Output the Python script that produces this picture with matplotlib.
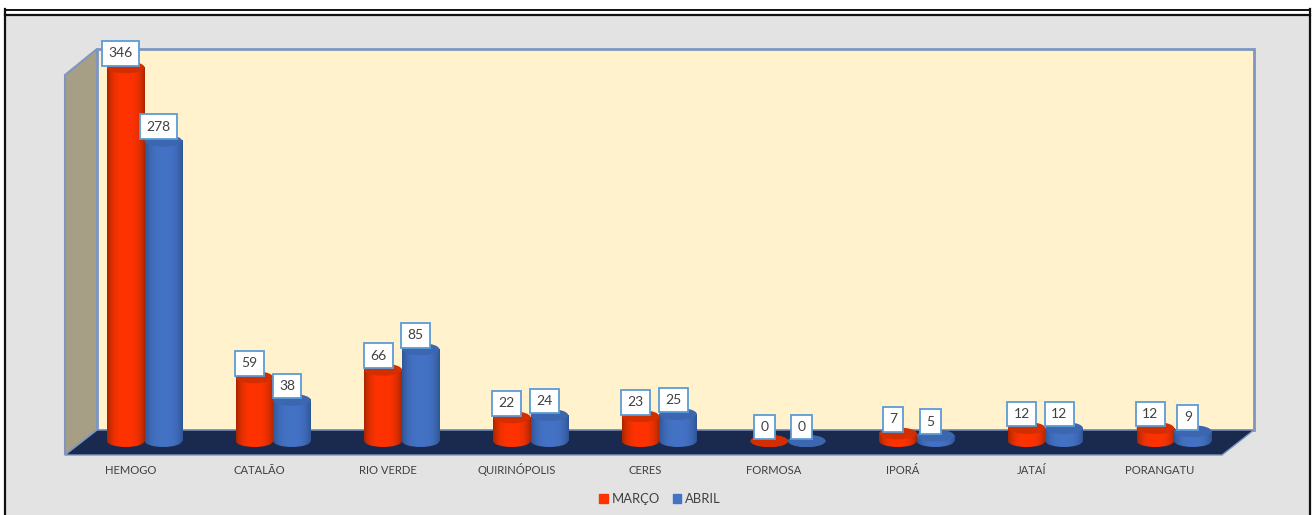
import matplotlib
matplotlib.use("Agg")
import matplotlib.pyplot as plt
import numpy as np
from matplotlib.patches import Ellipse, Patch, Polygon, Rectangle
from matplotlib.transforms import offset_copy

plt.rcParams['font.family'] = ['Lato', 'DejaVu Sans']

#data
categories = ["HEMOGO", "CATALÃO", "RIO VERDE", "QUIRINÓPOLIS", "CERES", "FORMOSA", "IPORÁ", "JATAÍ", "PORANGATU"]
marco = [346, 59, 66, 22, 23, 0, 7, 12, 12]
abril = [278, 38, 85, 24, 25, 0, 5, 12, 9]

W, H = 1312, 515
x0_px = 144.5    #centre of first group
step_px = 128.7  #distance between groups
base_px = 441    #pixel row of value 0
px_per_val = 1.08
bar_w = 37.5 / step_px
ell_h = 12 / px_per_val

fig = plt.figure(figsize=(W / 100, H / 100), dpi=100, facecolor="white")

#background axes in pixels, for frame and the 3d walls
bg = fig.add_axes([0, 0, 1, 1])
bg.set_xlim(0, W)
bg.set_ylim(H, 0)
bg.axis("off")
bg.add_patch(Rectangle((5, 14.5), 1305, 510, fc="#e3e3e3", ec="#111111", lw=1.6))
bg.plot([5, 1310], [9.5, 9.5], color="#111111", lw=1.4)
bg.plot([5, 5], [9, 15], color="#111111", lw=1.6)
bg.plot([1310, 1310], [9, 15], color="#111111", lw=1.6)
edge = "#7f96c0"
bg.add_patch(Rectangle((97, 49), 1157, 381, fc="#fff2cc", ec=edge, lw=2))
bg.add_patch(Polygon([(65, 75), (97, 49), (97, 430), (65, 455)], fc="#a69f85", ec=edge, lw=1.5))
bg.add_patch(Polygon([(65, 455), (97, 430), (1254, 430), (1222, 455)], fc="#1a2a4f", ec=edge, lw=1))

#main axes, same area, data units
ax = fig.add_axes([0, 0, 1, 1])
ax.set_xlim(-x0_px / step_px, (W - x0_px) / step_px)
ax.set_ylim(-(H - base_px) / px_per_val, base_px / px_per_val)
ax.axis("off")
ax.patch.set_alpha(0)


def shade(dark, mid):
    #horizontal shading of a cylinder
    t = np.abs(np.linspace(-1, 1, 64)) ** 3
    d = np.array(matplotlib.colors.to_rgb(dark))
    m = np.array(matplotlib.colors.to_rgb(mid))
    return (m[None, :] * (1 - t[:, None]) + d[None, :] * t[:, None])[None, :, :]


def cylinder(x, val, dark, mid, top):
    grad = shade(dark, mid)
    left, right = x - bar_w / 2, x + bar_w / 2
    bottom = ax.imshow(grad, extent=(left, right, -ell_h / 2, ell_h / 2), aspect="auto", zorder=3)
    bottom.set_clip_path(Ellipse((x, 0), bar_w, ell_h, transform=ax.transData))
    if val > 0:
        ax.imshow(grad, extent=(left, right, 0, val), aspect="auto", zorder=3)
    ax.add_patch(Ellipse((x, val), bar_w, ell_h, fc=top, ec="none", zorder=3))


series = [(marco, -0.5, "#a82600", "#ff3300", "#d42e00"), (abril, 0.5, "#2f5597", "#4472c4", "#3d66b0")]
for vals, side, dark, mid, top in series:
    for i, v in enumerate(vals):
        cylinder(i + side * bar_w, v, dark, mid, top)

#value labels
lab_tr = offset_copy(ax.transData, fig=fig, x=-5, y=14, units="dots")
for vals, side, dark, mid, top in series:
    for i, v in enumerate(vals):
        ax.text(i + side * bar_w, v, str(v), transform=lab_tr, ha="center", va="center",
                fontsize=10, color="#404040", zorder=5,
                bbox=dict(boxstyle="square,pad=0.46", fc="white", ec="#5b9bd5", lw=1.3))

#category labels
cat_tr = offset_copy(ax.transData, fig=fig, x=-14, y=-33, units="dots")
for i, c in enumerate(categories):
    ax.text(i, 0, c, transform=cat_tr, ha="center", va="baseline", fontsize=8.1, color="#404040")

handles = [Patch(color="#ff3300", label="MARÇO"), Patch(color="#4472c4", label="ABRIL")]
ax.legend(handles=handles, loc="center", bbox_to_anchor=(660 / W, 1 - 499 / H), ncol=2, frameon=False,
          fontsize=9.4, labelcolor="#404040", handlelength=0.65, handleheight=0.77,
          handletextpad=0.3, columnspacing=1.0)

fig.savefig("out.png", dpi=100, facecolor=fig.get_facecolor())
